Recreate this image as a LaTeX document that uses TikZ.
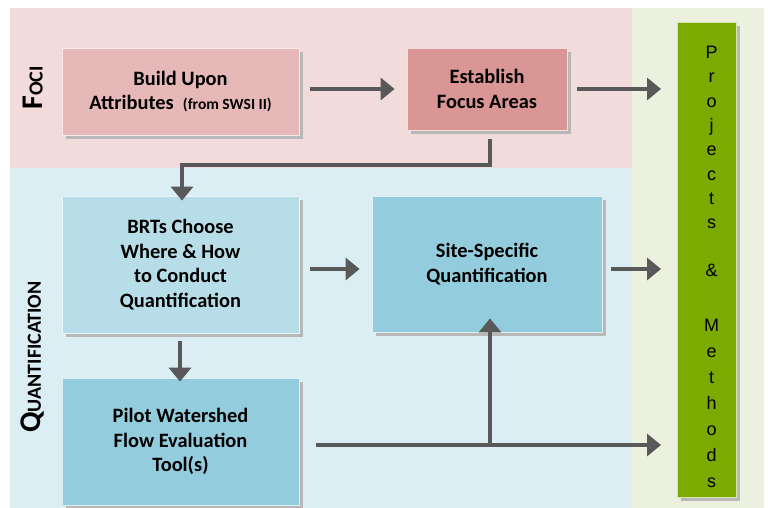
\documentclass[tikz,border=0pt]{standalone}
\usepackage{fontspec}
\setmainfont{Carlito}
\newfontfamily\arialf{Liberation Sans}
\usetikzlibrary{shadows,arrows.meta}
\definecolor{bgpink}{HTML}{F2DCDB}
\definecolor{bgblue}{HTML}{DBEEF4}
\definecolor{bggreen}{HTML}{EBF1DE}
\definecolor{boxpink}{HTML}{E6B9B8}
\definecolor{boxrose}{HTML}{D99694}
\definecolor{boxlblue}{HTML}{B7DEE8}
\definecolor{boxblue}{HTML}{93CDDD}
\definecolor{projgreen}{HTML}{7BAA00}
\definecolor{arrowgray}{HTML}{595959}
\begin{document}
\begin{tikzpicture}[x=1pt,y=-1pt,
  box/.style={rectangle, draw=white!70!#1, line width=0.8pt, fill=#1, inner sep=0pt, align=center,
    font=\fontsize{20.4}{24.5}\selectfont\bfseries,
    drop shadow={shadow xshift=4pt, shadow yshift=-4pt, fill=black!28, opacity=1}},
  conn/.style={draw=arrowgray, line width=4.2pt, -{Triangle[length=14pt,width=22pt]}},
  sidelabel/.style={rotate=90, font=\bfseries, inner sep=0pt}]
\useasboundingbox (0,0) rectangle (768,508);
\fill[white] (0,0) rectangle (768,508);
\fill[bgpink] (10,8) rectangle (632,168);
\fill[bgblue] (10,168) rectangle (632,508);
\fill[bggreen] (632,8) rectangle (764,508);

\node[sidelabel] (foci) at (33,88) {\fontsize{30}{30}\selectfont F\fontsize{20}{20}\selectfont OCI};
\node[sidelabel] (quant) at (33,357) {\fontsize{30}{30}\selectfont Q\fontsize{20}{20}\selectfont UANTIFICATION};

\node[box=boxpink, minimum width=237pt, minimum height=87pt] (build) at (180.5,91.5)
  {Build Upon\\Attributes\ \ {\fontsize{15.5}{15.5}\selectfont (from SWSI II)}};
\node[box=boxrose, minimum width=160pt, minimum height=82pt] (est) at (487,89)
  {Establish\\Focus Areas};
\node[box=boxlblue, minimum width=237pt, minimum height=137pt] (brt) at (180.5,264.5)
  {BRTs Choose\\Where \& How\\to Conduct\\Quantification};
\node[box=boxblue, minimum width=230pt, minimum height=136pt] (site) at (487,264)
  {Site-Specific\\Quantification};
\node[box=boxblue, minimum width=237pt, minimum height=127pt] (pilot) at (180.5,441.5)
  {Pilot Watershed\\Flow Evaluation\\Tool(s)};
\node[box=projgreen, minimum width=59pt, minimum height=475pt] (proj) at (706.5,259.5) {};
\node[anchor=north, inner sep=0pt, align=center, font=\arialf\fontsize{18}{24.3}\selectfont]
  (projtext) at (711.5,46)
  {P\\r\\o\\j\\e\\c\\t\\s\\[23.7pt]\&\\[30.7pt]M\\[1.7pt]e\\[1.7pt]t\\[1.7pt]h\\[1.7pt]o\\[1.7pt]d\\[1.7pt]s};

\coordinate (p1) at (661,89);
\coordinate (p2) at (661,269);
\coordinate (p3) at (661,445);
\coordinate (j) at (490,445);

\draw[conn] ([xshift=11pt]build.east |- 0,89) -- ([xshift=-12pt]est.west |- 0,89);
\draw[conn] ([xshift=10pt]est.east |- 0,89) -- (p1);
\draw[conn] (490,139) -- (490,165) -- (182,165) -- ([yshift=-5pt]brt.north -| 182,0);
\draw[conn] ([xshift=11pt]brt.east |- 0,269) -- ([xshift=-12pt]site.west |- 0,269);
\draw[conn] ([xshift=9pt]site.east |- 0,269) -- (p2);
\draw[conn] (180,341) -- ([yshift=-4pt]pilot.north -| 180,0);
\draw[conn] ([xshift=17pt]pilot.east |- 0,445) -- (p3);
\draw[conn] (j) -- ([yshift=14pt]site.south -| j);
\end{tikzpicture}
\end{document}
